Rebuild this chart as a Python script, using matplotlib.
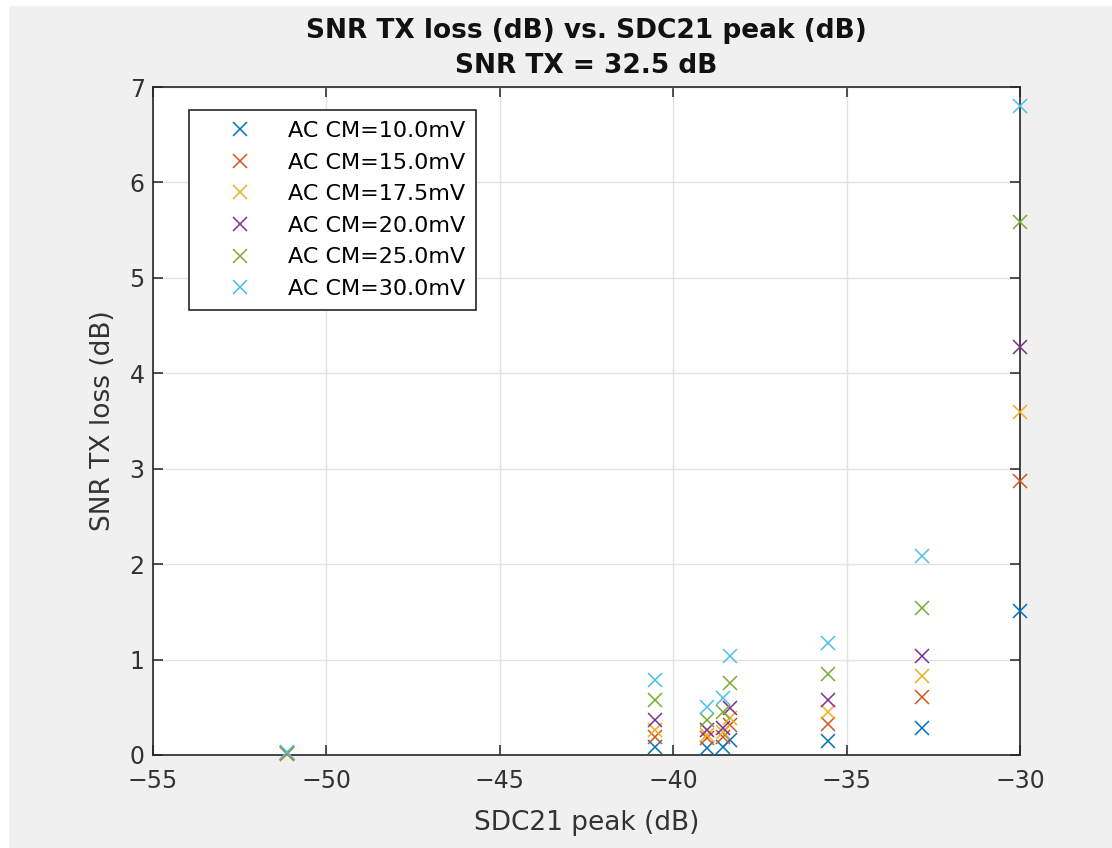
# SNR TX loss vs SDC21 peak, one marker series per AC CM level
import matplotlib
matplotlib.use("Agg")
import matplotlib.pyplot as plt
from matplotlib.patches import Rectangle

sdc21_peak = [-51.15, -40.52, -39.03, -38.56, -38.36, -35.54, -32.83, -30.0]
ac_cm_labels = ["AC CM=10.0mV", "AC CM=15.0mV", "AC CM=17.5mV",
                "AC CM=20.0mV", "AC CM=25.0mV", "AC CM=30.0mV"]
loss_10 = [0.02, 0.08, 0.07, 0.08, 0.16, 0.15, 0.28, 1.51]
loss_15 = [0.01, 0.19, 0.18, 0.19, 0.31, 0.33, 0.61, 2.87]
loss_175 = [0.01, 0.26, 0.21, 0.24, 0.39, 0.45, 0.83, 3.59]
loss_20 = [0.02, 0.37, 0.26, 0.28, 0.49, 0.58, 1.04, 4.28]
loss_25 = [0.02, 0.58, 0.37, 0.45, 0.75, 0.85, 1.54, 5.59]
loss_30 = [0.03, 0.79, 0.50, 0.60, 1.04, 1.17, 2.09, 6.80]
series = [loss_10, loss_15, loss_175, loss_20, loss_25, loss_30]

# matlab default line colors
colors = ["#0072BD", "#D95319", "#EDB120", "#7E2F8E", "#77AC30", "#4DBEEE"]

plt.rcParams["font.family"] = "DejaVu Sans"
fig = plt.figure(figsize=(11.12, 8.48), dpi=100, facecolor="white")
# gray figure area (screenshot has white strip top/left)
fig.patches.append(Rectangle((9 / 1112, 0), 1, (848 - 6) / 848, transform=fig.transFigure,
                             facecolor="#f0f0f0", edgecolor="none", zorder=-10))

ax = fig.add_axes([153 / 1112, 93 / 848, 867 / 1112, 668 / 848])
ax.set_facecolor("white")

for y, c, lab in zip(series, colors, ac_cm_labels):
    ax.plot(sdc21_peak, y, linestyle="none", marker="x", markersize=9.5,
            markeredgewidth=1.1, color=c, label=lab, clip_on=False, zorder=3)

ax.set_xlim(-55, -30)
ax.set_ylim(0, 7)
ax.set_xticks([-55, -50, -45, -40, -35, -30])
ax.set_yticks(range(0, 8))
ax.set_xticklabels(["\u221255", "\u221250", "\u221245", "\u221240", "\u221235", "\u221230"])
ax.grid(True, color="#e2e2e2", linewidth=1)
ax.set_axisbelow(True)
for s in ax.spines.values():
    s.set_color("#262626")
    s.set_linewidth(1.2)
ax.tick_params(direction="in", length=7, width=1.2, colors="#333333",
               labelsize=17, top=True, right=True, pad=6)
ax.tick_params(axis="x", pad=10)

ax.set_xlabel("SDC21 peak (dB)", fontsize=19, color="#333333", labelpad=12)
ax.set_ylabel("SNR TX loss (dB)", fontsize=19, color="#333333", labelpad=10)
ax.set_title("SNR TX loss (dB) vs. SDC21 peak (dB)\nSNR TX = 32.5 dB",
             fontsize=19, fontweight="bold", color="#111111", pad=10, linespacing=1.45)

leg = ax.legend(loc="upper left", bbox_to_anchor=(0.0415, 0.9656), borderaxespad=0,
                fontsize=16, frameon=True, fancybox=False, handlelength=3.6,
                handletextpad=0.35, labelspacing=0.52, borderpad=0.5)
leg.get_frame().set_edgecolor("#262626")
leg.get_frame().set_linewidth(1.2)
leg.get_frame().set_facecolor("white")
leg.get_frame().set_alpha(1)

fig.savefig("out.png", dpi=100, facecolor=fig.get_facecolor())
